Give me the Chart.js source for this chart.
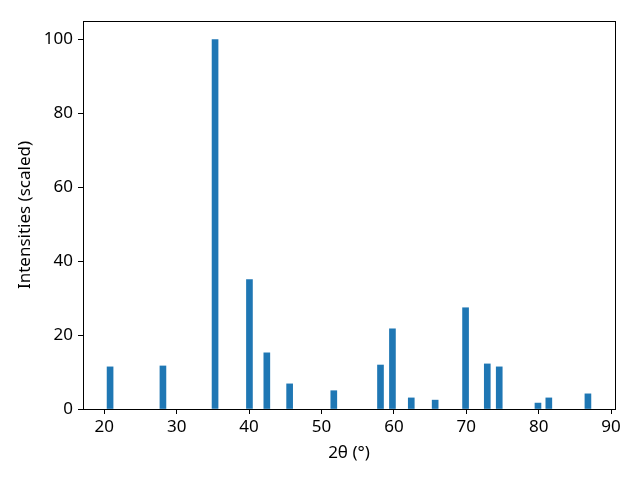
<!DOCTYPE html>
<html>
<head>
<meta charset="utf-8">
<script src="https://cdn.jsdelivr.net/npm/chart.js@4"></script>
<style>
html,body{margin:0;padding:0;background:#fff;}
#wrap{width:640px;height:480px;}
</style>
</head>
<body>
<div id="wrap"><canvas id="c" width="640" height="480"></canvas></div>
<script>
// Peak positions (2-theta, degrees) and scaled intensities
const twoTheta = [20.8, 28.1, 35.3, 40.05, 42.45, 45.6, 51.7, 58.15, 59.8, 62.4, 65.7, 69.9, 72.9, 74.55, 79.9, 81.4, 86.8];
const intensities = [11.4, 11.65, 100, 35, 15.2, 6.8, 4.95, 11.9, 21.7, 3.0, 2.4, 27.4, 12.2, 11.4, 1.6, 3.0, 4.1];
const xLabel = '2θ (°)';
const yLabel = 'Intensities (scaled)';

const points = twoTheta.map((x, i) => ({x: x, y: intensities[i]}));
const FONT = {family: 'Noto Sans', size: 17};

const framePlugin = {
  id: 'frame',
  afterDraw(chart) {
    const a = chart.chartArea, ctx = chart.ctx;
    ctx.save();
    ctx.strokeStyle = '#000';
    ctx.lineWidth = 1;
    ctx.strokeRect(Math.round(a.left) + 0.5, Math.round(a.top) + 0.5, Math.round(a.right - a.left), Math.round(a.bottom - a.top));
    ctx.restore();
  }
};

new Chart(document.getElementById('c'), {
  type: 'bar',
  data: {
    datasets: [{
      data: points,
      backgroundColor: '#1f77b4',
      borderWidth: 0,
      barThickness: 6
    }]
  },
  options: {
    responsive: false,
    animation: false,
    events: [],
    layout: {padding: {left: 0, top: 21, right: 25, bottom: 0}},
    plugins: {legend: {display: false}, tooltip: {enabled: false}},
    scales: {
      x: {
        type: 'linear',
        offset: false,
        min: 17.06,
        max: 90.54,
        afterFit(s) { s.height = 71; },
        ticks: {stepSize: 10, includeBounds: false, color: '#000', font: FONT, padding: 3, maxRotation: 0,
          callback: v => String(v)},
        grid: {offset: false, drawOnChartArea: false, drawTicks: true, tickLength: 5, tickColor: '#000'},
        border: {display: true, color: '#000', width: 1},
        title: {display: true, text: xLabel, color: '#000', font: FONT, padding: {top: 0, bottom: 17}}
      },
      y: {
        type: 'linear',
        min: 0,
        max: 105,
        afterFit(s) { s.width = 83; },
        ticks: {stepSize: 20, includeBounds: false, color: '#000', font: FONT, padding: 5,
          callback: v => String(v)},
        grid: {drawOnChartArea: false, drawTicks: true, tickLength: 5, tickColor: '#000'},
        border: {display: true, color: '#000', width: 1},
        title: {display: true, text: yLabel, color: '#000', font: FONT, padding: {top: 15, bottom: 0}}
      }
    }
  },
  plugins: [framePlugin]
});
</script>
</body>
</html>
